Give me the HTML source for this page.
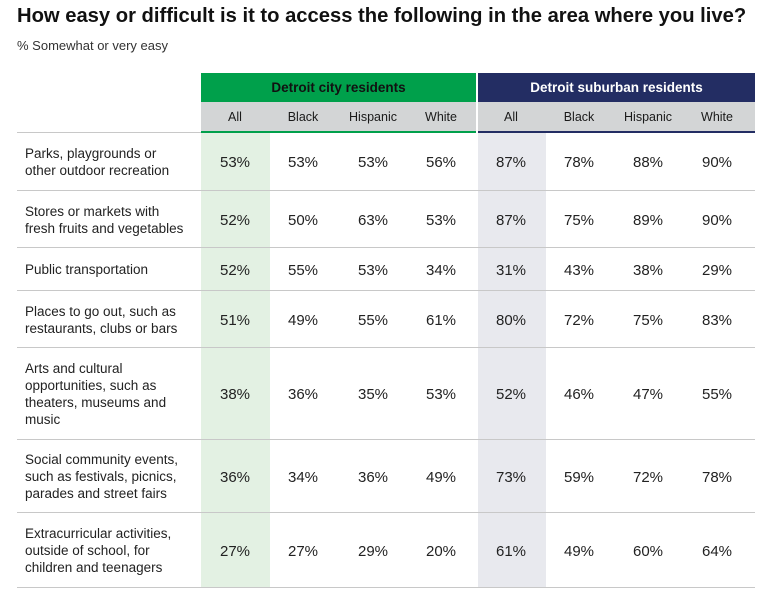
<!DOCTYPE html>
<html><head><meta charset="utf-8"><style>
body{margin:0;width:780px;height:607px;background:#fff;font-family:"Liberation Sans",sans-serif;color:#1a1a1a;position:relative;overflow:hidden}
.a{position:absolute;white-space:nowrap}
.title{left:17px;top:5px;font-size:20.2px;font-weight:bold;color:#111}
.sub{left:17px;top:38px;font-size:13px;color:#333}
.hdr{top:73px;height:29px;color:#fff;font-weight:bold;font-size:13.5px;display:flex;align-items:center;justify-content:center}
.subh{top:102px;height:29px;background:#d3d5d6;font-size:12.5px;color:#111}
.c{position:absolute;text-align:center;transform:translateX(-50%)}
.lbl{left:25px;font-size:13.5px;line-height:17px;color:#222}
.val{font-size:15px;color:#222}
.hl{position:absolute;height:1px;background:#c8c8c8}
</style></head><body>
<div class="a title">How easy or difficult is it to access the following in the area where you live?</div>
<div class="a sub">% Somewhat or very easy</div>
<div class="a" style="left:201px;top:132px;width:69px;height:455px;background:#e3f1e3"></div>
<div class="a" style="left:478px;top:132px;width:68px;height:455px;background:#e8e9ee"></div>
<div class="a hdr" style="left:201px;width:275px;background:#00a04b;color:#111">Detroit city residents</div>
<div class="a hdr" style="left:478px;width:277px;background:#232d63">Detroit suburban residents</div>
<div class="a subh" style="left:201px;width:275px;border-bottom:2px solid #00a04b"></div>
<div class="a subh" style="left:478px;width:277px;border-bottom:2px solid #232d63"></div>
<div id="t"></div>
<script>
const groups=["All","Black","Hispanic","White","All","Black","Hispanic","White"];
const rowLabels=[["Parks, playgrounds or","other outdoor recreation"],["Stores or markets with","fresh fruits and vegetables"],["Public transportation"],["Places to go out, such as","restaurants, clubs or bars"],["Arts and cultural","opportunities, such as","theaters, museums and","music"],["Social community events,","such as festivals, picnics,","parades and street fairs"],["Extracurricular activities,","outside of school, for","children and teenagers"]];
const cityValues=[[53,53,53,56],[52,50,63,53],[52,55,53,34],[51,49,55,61],[38,36,35,53],[36,34,36,49],[27,27,29,20]];
const suburbanValues=[[87,78,88,90],[87,75,89,90],[31,43,38,29],[80,72,75,83],[52,46,47,55],[73,59,72,78],[61,49,60,64]];
const colX=[235,303,373,441,511,579,648,717];
const rowEdges=[132,190,247,290,347,439,512,587];
const t=document.getElementById('t');
groups.forEach((g,i)=>{const d=document.createElement('div');d.className='c';


d.style.left=colX[i]+'px';d.style.top='110px';d.style.fontSize='12.5px';d.textContent=g;t.appendChild(d);});
rowEdges.forEach((y,i)=>{const l=document.createElement('div');l.className='hl';


l.style.left='17px';l.style.width=(i==0?184:738)+'px';l.style.top=y+'px';t.appendChild(l);});
rowLabels.forEach((lab,r)=>{const top=rowEdges[r],bot=rowEdges[r+1],mid=(top+bot)/2;
const d=document.createElement('div');d.className='a lbl';


d.innerHTML=lab.join('<br>');t.appendChild(d);
const h=d.offsetHeight;d.style.top=(mid-h/2+1)+'px';
const vals=cityValues[r].concat(suburbanValues[r]);
vals.forEach((v,i)=>{const c=document.createElement('div');c.className='c val';


c.style.left=colX[i]+'px';c.style.top=(mid-7)+'px';c.textContent=v+'%';t.appendChild(c);});
});
</script>
</body></html>
